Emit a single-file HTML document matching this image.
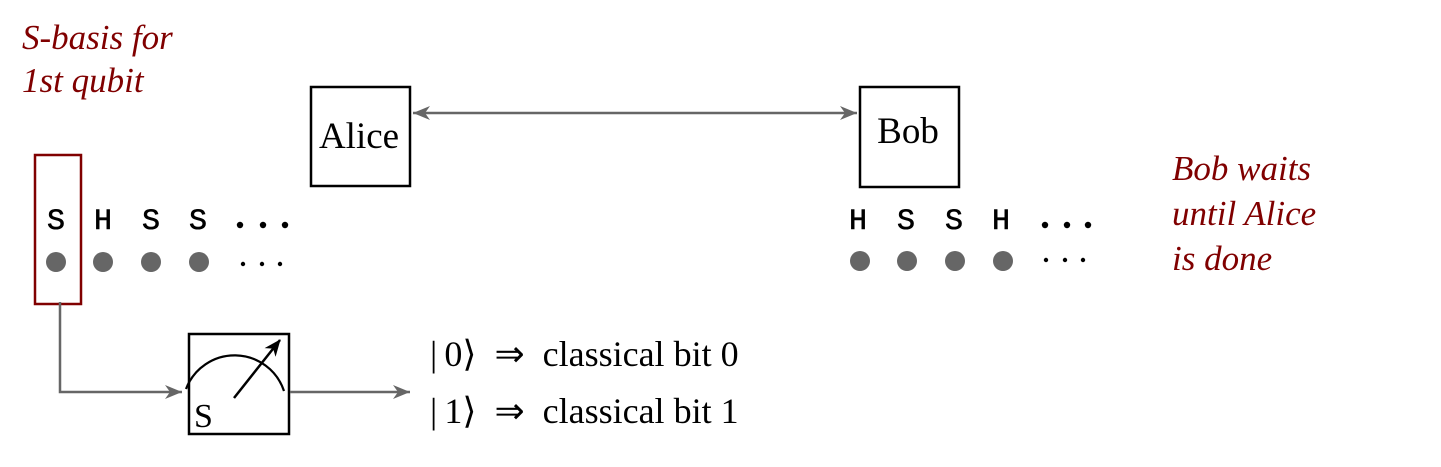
<!DOCTYPE html>
<html><head><meta charset="utf-8"><style>
html,body{margin:0;padding:0;background:#fff;}
svg{display:block;}
.it{font-family:"Liberation Serif",serif;font-style:italic;fill:#800000;font-size:35px;}
.sf{font-family:"Liberation Serif",serif;fill:#000;}
.mono{font-family:"Liberation Mono",monospace;fill:#000;font-size:30px;stroke:#000;stroke-width:0.6;}
</style></head><body>
<svg width="1441" height="467" viewBox="0 0 1441 467" xmlns="http://www.w3.org/2000/svg">
<defs>
<marker id="ah" markerWidth="18" markerHeight="14" refX="17" refY="7" orient="auto" markerUnits="userSpaceOnUse">
<path d="M0,0 L17,7 L0,14 L5,7 Z" fill="#666"/></marker>
<marker id="ahs" markerWidth="18" markerHeight="14" refX="1" refY="7" orient="auto" markerUnits="userSpaceOnUse">
<path d="M18,0 L1,7 L18,14 L13,7 Z" fill="#666"/></marker>
<marker id="bk" markerWidth="18" markerHeight="14" refX="16" refY="7" orient="auto" markerUnits="userSpaceOnUse">
<path d="M0,0 L17,7 L0,14 L5,7 Z" fill="#000"/></marker>
</defs>
<text class="it" x="22" y="49">S-basis for</text>
<text class="it" x="22" y="92">1st qubit</text>
<text class="it" x="1172" y="180">Bob waits</text>
<text class="it" x="1172" y="225">until Alice</text>
<text class="it" x="1172" y="270">is done</text>

<rect x="311" y="87" width="99" height="99" fill="none" stroke="#000" stroke-width="2.5"/>
<text class="sf" x="359" y="148" font-size="37" text-anchor="middle">Alice</text>
<rect x="860" y="87" width="99" height="100" fill="none" stroke="#000" stroke-width="2.5"/>
<text class="sf" x="908" y="143" font-size="37" text-anchor="middle">Bob</text>
<line x1="413" y1="113" x2="857" y2="113" stroke="#666" stroke-width="2.5" marker-start="url(#ahs)" marker-end="url(#ah)"/>

<rect x="35" y="155" width="46" height="149" fill="none" stroke="#800000" stroke-width="2.5"/>
<g class="mono">
<text x="56" y="229" text-anchor="middle">S</text>
<text x="103" y="229" text-anchor="middle">H</text>
<text x="151" y="229" text-anchor="middle">S</text>
<text x="198" y="229" text-anchor="middle">S</text>
<text x="858" y="229" text-anchor="middle">H</text>
<text x="906" y="229" text-anchor="middle">S</text>
<text x="954" y="229" text-anchor="middle">S</text>
<text x="1001" y="229" text-anchor="middle">H</text>
</g>
<g fill="#000">
<circle cx="240" cy="225" r="3.2"/><circle cx="263" cy="225" r="3.2"/><circle cx="285" cy="225" r="3.2"/>
<circle cx="243" cy="264" r="2.2"/><circle cx="262" cy="264" r="2.2"/><circle cx="280" cy="264" r="2.2"/>
<circle cx="1045" cy="225" r="3.2"/><circle cx="1067" cy="225" r="3.2"/><circle cx="1088" cy="225" r="3.2"/>
<circle cx="1046" cy="260" r="2.2"/><circle cx="1065" cy="260" r="2.2"/><circle cx="1083" cy="260" r="2.2"/>
</g>
<g fill="#666">
<circle cx="56" cy="262" r="10"/><circle cx="103" cy="262" r="10"/><circle cx="151" cy="262" r="10"/><circle cx="199" cy="262" r="10"/>
<circle cx="860" cy="261" r="10"/><circle cx="907" cy="261" r="10"/><circle cx="955" cy="261" r="10"/><circle cx="1003" cy="261" r="10"/>
</g>

<polyline points="60,302 60,392 182,392" fill="none" stroke="#666" stroke-width="2.5" marker-end="url(#ah)"/>
<rect x="189" y="334" width="100" height="100" fill="none" stroke="#000" stroke-width="2.5"/>
<path d="M186,389 A52,52 0 0 1 284,391" fill="none" stroke="#000" stroke-width="2.2"/>
<line x1="234" y1="398" x2="280" y2="340" stroke="#000" stroke-width="2.5" marker-end="url(#bk)"/>
<text class="sf" x="194" y="427" font-size="34">S</text>
<line x1="290" y1="392" x2="410" y2="392" stroke="#666" stroke-width="2.5" marker-end="url(#ah)"/>

<text class="sf" x="430" y="366" font-size="36">|&#8201;0⟩ &#160;⇒&#160; classical bit 0</text>
<text class="sf" x="430" y="423" font-size="36">|&#8201;1⟩ &#160;⇒&#160; classical bit 1</text>
</svg>
</body></html>
